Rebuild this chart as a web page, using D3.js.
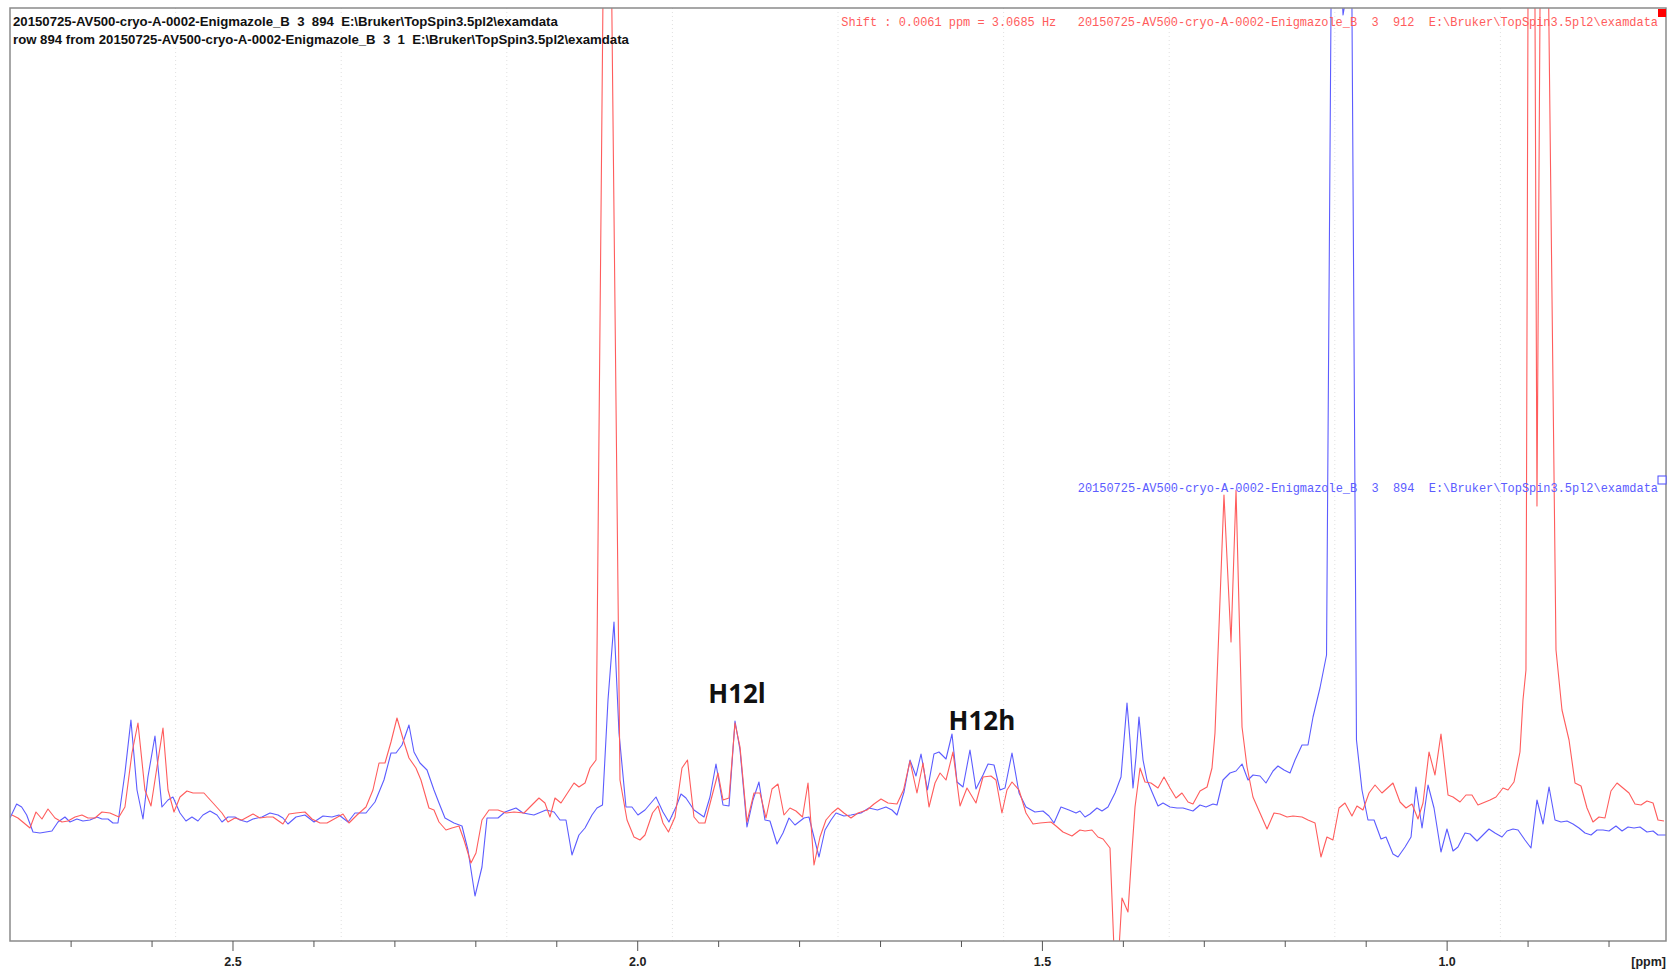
<!DOCTYPE html>
<html>
<head>
<meta charset="utf-8">
<script src="https://cdn.jsdelivr.net/npm/d3@7"></script>
<style>
  html, body { margin: 0; padding: 0; background: #fff; }
  svg text { white-space: pre; }
</style>
</head>
<body>
<svg id="chart"></svg>
<script>
// Row 894 (blue) and row 912 (red), [ppm, intensity]
var row894 = [
  [2.7755, 2], [2.7673, 16], [2.7611, 13], [2.7549, 5], [2.7471, -12], [2.7385, -13],
  [2.7237, -11], [2.7162, -2], [2.7076, 3], [2.7014, -2], [2.6928, 1], [2.6854, -1],
  [2.6767, 0], [2.6681, 3], [2.6619, 1], [2.6545, 1], [2.6483, -3], [2.6421, -3],
  [2.6335, 47], [2.6261, 100], [2.6186, 30], [2.6112, 1], [2.6051, 43], [2.5964, 84],
  [2.5878, 13], [2.5803, 20], [2.5742, 23], [2.5655, 7], [2.5581, -1], [2.5507, 3],
  [2.5433, -1], [2.5371, 5], [2.5284, 9], [2.5198, 5], [2.5136, -2], [2.5062, 3],
  [2.4976, 3], [2.4914, 0], [2.4827, -2], [2.4753, 1], [2.4642, 3], [2.4543, 7],
  [2.4444, 5], [2.4383, 2], [2.4321, -4], [2.4222, 3], [2.4111, 5], [2.3999, -2],
  [2.3888, 4], [2.3777, 3], [2.3691, 5], [2.3579, -2], [2.3493, 7], [2.3357, 7],
  [2.3246, 18], [2.3135, 40], [2.3048, 67], [2.2986, 67], [2.2912, 75], [2.2826, 95],
  [2.2764, 68], [2.2690, 57], [2.2603, 50], [2.2517, 30], [2.2455, 17], [2.2381, 2],
  [2.2270, -3], [2.2171, -6], [2.2097, -30], [2.2010, -76], [2.1924, -47], [2.1862, 2],
  [2.1726, 2], [2.1640, 8], [2.1504, 12], [2.1417, 7], [2.1282, 5], [2.1133, 10],
  [2.1034, 8], [2.0960, 0], [2.0886, 0], [2.0812, -35], [2.0726, -15], [2.0651, -8],
  [2.0565, 5], [2.0503, 12], [2.0435, 15], [2.0367, 120], [2.0293, 198], [2.0231, 87],
  [2.0145, 13], [2.0071, 13], [1.9997, 5], [1.9910, 10], [1.9774, 23], [1.9688, 8],
  [1.9614, -2], [1.9527, 13], [1.9465, 26], [1.9404, 22], [1.9305, 10], [1.9181, 3],
  [1.9107, 23], [1.9033, 56], [1.8946, 15], [1.8872, 14], [1.8798, 99], [1.8736, 70],
  [1.8650, -7], [1.8576, 20], [1.8502, 38], [1.8428, 0], [1.8366, -1], [1.8279, -24],
  [1.8205, -13], [1.8131, 2], [1.8057, -5], [1.7946, 2], [1.7884, 3], [1.7835, -13],
  [1.7760, -37], [1.7686, -10], [1.7612, 0], [1.7550, 7], [1.7452, 4], [1.7365, 5],
  [1.7242, 7], [1.7143, 12], [1.7038, 10], [1.6933, 13], [1.6859, 10], [1.6797, 5],
  [1.6710, 28], [1.6636, 60], [1.6562, 44], [1.6500, 66], [1.6420, 30], [1.6340, 66],
  [1.6278, 68], [1.6191, 61], [1.6117, 86], [1.6055, 38], [1.5981, 33], [1.5895, 70],
  [1.5821, 31], [1.5734, 45], [1.5672, 56], [1.5598, 55], [1.5524, 30], [1.5462, 32],
  [1.5376, 67], [1.5289, 27], [1.5203, 13], [1.5092, 8], [1.4993, 9], [1.4919, 4],
  [1.4857, -3], [1.4771, 13], [1.4672, 10], [1.4585, 7], [1.4536, 9], [1.4474, 3],
  [1.4412, 6], [1.4326, 12], [1.4264, 9], [1.4190, 13], [1.4103, 27], [1.4029, 43],
  [1.3955, 117], [1.3918, 80], [1.3881, 32], [1.3844, 63], [1.3807, 103], [1.3757, 60],
  [1.3708, 40], [1.3646, 28], [1.3572, 14], [1.3510, 17], [1.3424, 13], [1.3337, 12],
  [1.3263, 12], [1.3140, 9], [1.3053, 15], [1.2979, 13], [1.2893, 16], [1.2843, 15],
  [1.2769, 40], [1.2683, 47], [1.2608, 49], [1.2534, 56], [1.2460, 40], [1.2398, 45],
  [1.2312, 44], [1.2238, 37], [1.2151, 49], [1.2090, 54], [1.2015, 50], [1.1941, 47],
  [1.1879, 60], [1.1793, 75], [1.1719, 75], [1.1657, 103], [1.1571, 132], [1.1490, 165],
  [1.1422, 960], [1.1354, 920], [1.1286, 805], [1.1225, 835], [1.1181, 880], [1.1120, 80],
  [1.1052, 30], [1.0978, 0], [1.0903, 0], [1.0817, -19], [1.0755, -17], [1.0669, -34],
  [1.0607, -37], [1.0520, -27], [1.0446, -17], [1.0385, 33], [1.0310, -8], [1.0236, 35],
  [1.0162, 12], [1.0076, -32], [1.0002, -9], [0.9927, -31], [0.9866, -27], [0.9779, -13],
  [0.9717, -14], [0.9631, -21], [0.9557, -15], [0.9483, -9], [0.9409, -13], [0.9322, -17],
  [0.9260, -11], [0.9186, -9], [0.9124, -10], [0.9038, -20], [0.8964, -28], [0.8890, 20],
  [0.8815, -4], [0.8741, 33], [0.8667, 0], [0.8593, -2], [0.8519, -1], [0.8445, -4],
  [0.8371, -8], [0.8297, -13], [0.8222, -15], [0.8148, -10], [0.8074, -10], [0.8000, -11],
  [0.7914, -6], [0.7839, -11], [0.7765, -7], [0.7691, -8], [0.7617, -7], [0.7531, -12],
  [0.7456, -11], [0.7395, -15], [0.7296, -15]
];

var row912 = [
  [2.7731, 5], [2.7657, 2], [2.7508, -8], [2.7434, 8], [2.7360, 1], [2.7286, 11],
  [2.7199, 2], [2.7113, -2], [2.7039, -1], [2.6952, 3], [2.6866, 5], [2.6792, 2],
  [2.6705, 2], [2.6619, 8], [2.6520, 7], [2.6409, 3], [2.6335, 13], [2.6248, 67],
  [2.6174, 97], [2.6088, 30], [2.6013, 14], [2.5939, 53], [2.5865, 92], [2.5803, 30],
  [2.5729, 8], [2.5655, 23], [2.5569, 29], [2.5494, 27], [2.5359, 27], [2.5247, 17],
  [2.5136, 7], [2.5062, -2], [2.4976, 2], [2.4889, 0], [2.4753, 6], [2.4667, 2],
  [2.4580, 3], [2.4506, 3], [2.4383, -4], [2.4308, 6], [2.4222, 7], [2.4111, 8],
  [2.4024, 1], [2.3925, -3], [2.3839, -3], [2.3728, 2], [2.3641, 6], [2.3567, -3],
  [2.3468, 5], [2.3357, 13], [2.3271, 30], [2.3196, 57], [2.3122, 57], [2.3048, 78],
  [2.2974, 102], [2.2888, 78], [2.2826, 62], [2.2740, 52], [2.2678, 40], [2.2579, 12],
  [2.2517, 10], [2.2455, -2], [2.2369, -10], [2.2295, -8], [2.2208, -6], [2.2146, -20],
  [2.2060, -43], [2.1998, -33], [2.1924, 0], [2.1837, 10], [2.1726, 10], [2.1627, 7],
  [2.1528, 8], [2.1405, 7], [2.1282, 17], [2.1220, 22], [2.1146, 17], [2.1084, 3],
  [2.1022, 22], [2.0948, 17], [2.0787, 37], [2.0726, 33], [2.0651, 37], [2.0589, 52],
  [2.0515, 60], [2.0379, 1267], [2.0219, 40], [2.0132, 0], [2.0046, -17], [1.9972, -20],
  [1.9910, -15], [1.9817, 7], [1.9749, 14], [1.9688, -3], [1.9620, -12], [1.9539, 3],
  [1.9453, 52], [1.9385, 60], [1.9305, 3], [1.9243, -3], [1.9169, -3], [1.9095, 20],
  [1.9008, 47], [1.8946, 20], [1.8872, 22], [1.8798, 97], [1.8736, 73], [1.8650, -2],
  [1.8563, 27], [1.8489, 27], [1.8415, 2], [1.8341, 31], [1.8267, 36], [1.8193, 5],
  [1.8119, 12], [1.8045, 9], [1.7964, 3], [1.7896, 37], [1.7822, -45], [1.7748, -17],
  [1.7674, 0], [1.7600, 7], [1.7526, 12], [1.7452, 7], [1.7365, 2], [1.7279, 7],
  [1.7167, 10], [1.7081, 16], [1.6994, 21], [1.6908, 17], [1.6797, 16], [1.6716, 30],
  [1.6636, 59], [1.6550, 27], [1.6475, 57], [1.6401, 13], [1.6327, 37], [1.6265, 47],
  [1.6191, 40], [1.6105, 68], [1.6018, 14], [1.5932, 32], [1.5821, 17], [1.5734, 43],
  [1.5636, 44], [1.5574, 40], [1.5500, 7], [1.5438, 30], [1.5376, 38], [1.5289, 30],
  [1.5203, 7], [1.5116, -4], [1.5030, -3], [1.4894, -2], [1.4832, -6], [1.4746, -12],
  [1.4635, -16], [1.4536, -10], [1.4474, -11], [1.4388, -10], [1.4314, -17], [1.4251, -19],
  [1.4165, -28], [1.4091, -180], [1.4017, -78], [1.3943, -92], [1.3893, -30], [1.3856, 13],
  [1.3794, 52], [1.3733, 38], [1.3659, 37], [1.3572, 32], [1.3498, 43], [1.3424, 32],
  [1.3350, 22], [1.3276, 27], [1.3201, 18], [1.3140, 16], [1.3053, 29], [1.2966, 33],
  [1.2905, 52], [1.2868, 87], [1.2757, 325], [1.2670, 178], [1.2608, 330], [1.2534, 93],
  [1.2472, 53], [1.2399, 23], [1.2312, 7], [1.2225, -9], [1.2139, 7], [1.2065, 6],
  [1.1978, 3], [1.1904, 4], [1.1793, 3], [1.1719, 0], [1.1632, -3], [1.1559, -37],
  [1.1485, -17], [1.1411, -20], [1.1336, 12], [1.1262, 17], [1.1176, 4], [1.1114, 14],
  [1.1040, 10], [1.0965, 27], [1.0891, 35], [1.0805, 27], [1.0669, 37], [1.0582, 18],
  [1.0508, 12], [1.0434, 16], [1.0360, 1], [1.0298, 17], [1.0224, 68], [1.0150, 45],
  [1.0076, 86], [0.9989, 25], [0.9927, 23], [0.9841, 18], [0.9767, 25], [0.9693, 25],
  [0.9619, 15], [0.9470, 20], [0.9396, 23], [0.9310, 32], [0.9248, 30], [0.9174, 38],
  [0.9100, 68], [0.9063, 120], [0.9026, 150], [0.8964, 1810], [0.8890, 314], [0.8815, 1314],
  [0.8655, 170], [0.8581, 110], [0.8494, 80], [0.8420, 37], [0.8346, 34], [0.8272, 12],
  [0.8198, -2], [0.8124, 3], [0.8050, 2], [0.7976, 29], [0.7901, 37], [0.7827, 32],
  [0.7753, 27], [0.7679, 16], [0.7605, 15], [0.7531, 19], [0.7456, 17], [0.7395, 0],
  [0.7321, -1]
];

var majorTicks = [2.5, 2.0, 1.5, 1.0];
var ppmRange = [2.7755, 0.7296];
var intensityRange = [-121, 812];

var peakLabels = [
  {text: 'H12l', ppm: 1.8773, intensity: 117},
  {text: 'H12h', ppm: 1.5747, intensity: 90}
];

var titleLines = [
  '20150725-AV500-cryo-A-0002-Enigmazole_B  3  894  E:\\Bruker\\TopSpin3.5pl2\\examdata',
  'row 894 from 20150725-AV500-cryo-A-0002-Enigmazole_B  3  1  E:\\Bruker\\TopSpin3.5pl2\\examdata'
];
var redCaption = 'Shift : 0.0061 ppm = 3.0685 Hz   20150725-AV500-cryo-A-0002-Enigmazole_B  3  912  E:\\Bruker\\TopSpin3.5pl2\\examdata';
var blueCaption = '20150725-AV500-cryo-A-0002-Enigmazole_B  3  894  E:\\Bruker\\TopSpin3.5pl2\\examdata';

var width = 1669,
    height = 972,
    margin = {top: 8, right: 3, bottom: 31, left: 10};

var redColor = '#ff5c5c',
    blueColor = '#5c5cff',
    frameColor = '#8a8a8a';

var svg = d3.select('#chart')
  .attr('width', width)
  .attr('height', height);

var x = d3.scaleLinear()
  .domain(ppmRange)
  .range([margin.left, width - margin.right]);

var y = d3.scaleLinear()
  .domain(intensityRange)
  .range([height - margin.bottom, margin.top]);

svg.append('clipPath')
    .attr('id', 'plot-clip')
  .append('rect')
    .attr('x', margin.left)
    .attr('y', margin.top)
    .attr('width', width - margin.left - margin.right)
    .attr('height', height - margin.top - margin.bottom);

// Dotted vertical grid, ten equal divisions of the frame
var gridX = d3.range(1, 10).map(function(i) {
  return margin.left + i * (width - margin.left - margin.right) / 10;
});
svg.append('g')
  .selectAll('line')
  .data(gridX)
  .enter().append('line')
    .attr('x1', function(d) { return d; })
    .attr('x2', function(d) { return d; })
    .attr('y1', margin.top)
    .attr('y2', height - margin.bottom)
    .attr('stroke', '#e0e0e0')
    .attr('stroke-width', 1)
    .attr('stroke-dasharray', '1,3');

var line = d3.line()
  .x(function(d) { return x(d[0]); })
  .y(function(d) { return y(d[1]); });

var spectra = svg.append('g').attr('clip-path', 'url(#plot-clip)');

spectra.append('path')
  .datum(row894)
  .attr('fill', 'none')
  .attr('stroke', blueColor)
  .attr('stroke-width', 1.1)
  .attr('stroke-linejoin', 'round')
  .attr('d', line);

spectra.append('path')
  .datum(row912)
  .attr('fill', 'none')
  .attr('stroke', redColor)
  .attr('stroke-width', 1.1)
  .attr('stroke-linejoin', 'round')
  .attr('d', line);

// Frame
svg.append('rect')
  .attr('x', margin.left)
  .attr('y', margin.top)
  .attr('width', width - margin.left - margin.right)
  .attr('height', height - margin.top - margin.bottom)
  .attr('fill', 'none')
  .attr('stroke', frameColor)
  .attr('stroke-width', 1.5);

// x axis: minor ticks every 0.1 ppm, labels on the 0.5 ppm ones
var axis = svg.append('g')
  .attr('transform', 'translate(0,' + (height - margin.bottom) + ')');

axis.selectAll('line.minor')
  .data(x.ticks(20))
  .enter().append('line')
    .attr('class', 'minor')
    .attr('x1', function(d) { return x(d); })
    .attr('x2', function(d) { return x(d); })
    .attr('y1', 0)
    .attr('y2', function(d) {
      return majorTicks.some(function(m) { return Math.abs(m - d) < 1e-6; }) ? 10 : 6;
    })
    .attr('stroke', '#555')
    .attr('stroke-width', 1);

axis.selectAll('text.tick')
  .data(majorTicks)
  .enter().append('text')
    .attr('class', 'tick')
    .attr('x', function(d) { return x(d); })
    .attr('y', 25)
    .attr('text-anchor', 'middle')
    .attr('font-family', 'Liberation Sans, Arial, sans-serif')
    .attr('font-weight', 'bold')
    .attr('font-size', 12.5)
    .attr('fill', '#222')
    .text(function(d) { return d.toFixed(1); });

axis.append('text')
  .attr('x', width - margin.right)
  .attr('y', 25)
  .attr('text-anchor', 'end')
  .attr('font-family', 'Liberation Sans, Arial, sans-serif')
  .attr('font-weight', 'bold')
  .attr('font-size', 12.5)
  .attr('fill', '#222')
  .text('[ppm]');

// Header lines
svg.append('g')
  .selectAll('text')
  .data(titleLines)
  .enter().append('text')
    .attr('x', margin.left + 3)
    .attr('y', function(d, i) { return 26 + i * 18; })
    .attr('font-family', 'Liberation Sans, Arial, sans-serif')
    .attr('font-weight', 'bold')
    .attr('font-size', 13.2)
    .attr('fill', '#111')
    .text(function(d) { return d; });

svg.append('text')
  .attr('x', width - margin.right - 8)
  .attr('y', 26)
  .attr('text-anchor', 'end')
  .attr('font-family', 'Liberation Mono, Courier New, monospace')
  .attr('font-size', 11.95)
  .attr('fill', redColor)
  .text(redCaption);

svg.append('text')
  .attr('x', width - margin.right - 8)
  .attr('y', 492)
  .attr('text-anchor', 'end')
  .attr('font-family', 'Liberation Mono, Courier New, monospace')
  .attr('font-size', 11.95)
  .attr('fill', blueColor)
  .text(blueCaption);

// Row markers at the right edge
svg.append('rect')
  .attr('x', width - margin.right - 8)
  .attr('y', margin.top + 1)
  .attr('width', 8)
  .attr('height', 8)
  .attr('fill', '#ff0000');

svg.append('rect')
  .attr('x', width - margin.right - 8)
  .attr('y', 476)
  .attr('width', 8)
  .attr('height', 8)
  .attr('fill', '#fff')
  .attr('stroke', '#4a4aff')
  .attr('stroke-width', 1);

// Peak annotations
svg.append('g')
  .selectAll('text')
  .data(peakLabels)
  .enter().append('text')
    .attr('x', function(d) { return x(d.ppm); })
    .attr('y', function(d) { return y(d.intensity); })
    .attr('text-anchor', 'middle')
    .attr('font-family', 'Open Sans, Noto Sans, sans-serif')
    .attr('font-weight', 'bold')
    .attr('font-size', 26)
    .attr('fill', '#111')
    .text(function(d) { return d.text; });
</script>
</body>
</html>
